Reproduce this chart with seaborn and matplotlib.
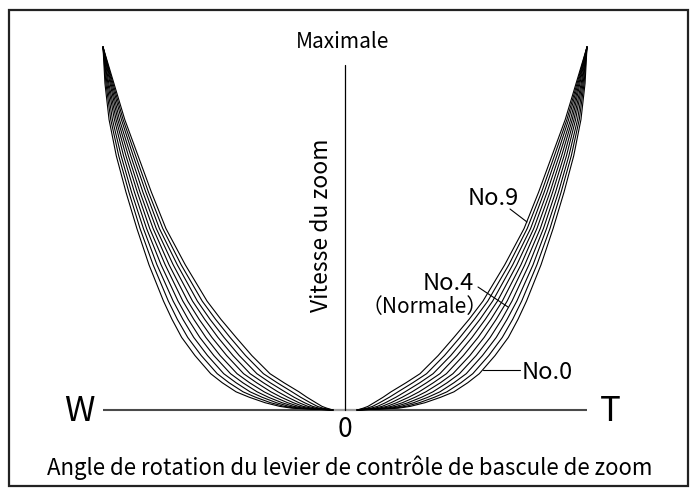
import seaborn as sns
import numpy as np
import pandas as pd
import matplotlib.pyplot as plt
from matplotlib.lines import Line2D
from matplotlib.patches import Rectangle

# zoom speed (fraction of maximum) at which each curve was read
speed_levels = [0, 0.005, 0.01, 0.02, 0.035, 0.05, 0.075, 0.1, 0.15, 0.2, 0.25, 0.3, 0.4, 0.5, 0.6, 0.7, 0.8, 0.9, 1.0]

# lever rotation angle (fraction of full travel) for each curve
curve_names = ["No.0", "No.1", "No.2", "No.3", "No.4", "No.5", "No.6", "No.7", "No.8", "No.9"]
curve_angles = [
    [0.05, 0.220, 0.270, 0.330, 0.395, 0.450, 0.507, 0.555, 0.620, 0.675, 0.715, 0.750, 0.810, 0.860, 0.905, 0.945, 0.975, 0.992, 1.0],
    [0.05, 0.204, 0.251, 0.307, 0.369, 0.421, 0.479, 0.528, 0.594, 0.650, 0.693, 0.730, 0.793, 0.847, 0.893, 0.935, 0.968, 0.988, 1.0],
    [0.05, 0.188, 0.231, 0.283, 0.342, 0.392, 0.450, 0.501, 0.568, 0.625, 0.670, 0.710, 0.777, 0.833, 0.882, 0.925, 0.961, 0.984, 1.0],
    [0.05, 0.172, 0.212, 0.260, 0.316, 0.363, 0.422, 0.473, 0.542, 0.600, 0.648, 0.690, 0.760, 0.820, 0.870, 0.915, 0.953, 0.980, 1.0],
    [0.05, 0.156, 0.192, 0.237, 0.289, 0.334, 0.394, 0.446, 0.516, 0.575, 0.625, 0.670, 0.743, 0.807, 0.858, 0.905, 0.946, 0.976, 1.0],
    [0.05, 0.139, 0.173, 0.213, 0.263, 0.306, 0.365, 0.419, 0.489, 0.550, 0.603, 0.650, 0.727, 0.793, 0.847, 0.895, 0.939, 0.971, 1.0],
    [0.05, 0.123, 0.153, 0.190, 0.236, 0.277, 0.337, 0.392, 0.463, 0.525, 0.580, 0.630, 0.710, 0.780, 0.835, 0.885, 0.932, 0.967, 1.0],
    [0.05, 0.107, 0.134, 0.167, 0.210, 0.248, 0.309, 0.364, 0.437, 0.500, 0.558, 0.610, 0.693, 0.767, 0.823, 0.875, 0.924, 0.963, 1.0],
    [0.05, 0.091, 0.114, 0.143, 0.183, 0.219, 0.280, 0.337, 0.411, 0.475, 0.535, 0.590, 0.677, 0.753, 0.812, 0.865, 0.917, 0.959, 1.0],
    [0.05, 0.075, 0.095, 0.120, 0.157, 0.190, 0.252, 0.310, 0.385, 0.450, 0.513, 0.570, 0.660, 0.740, 0.800, 0.855, 0.910, 0.955, 1.0],
]
sides = {"W": -1, "T": 1}

rows = []
for name, angles in zip(curve_names, curve_angles):
    for side, sign in sides.items():
        for a, s in zip(angles, speed_levels):
            rows.append({"angle": sign * a, "speed": s, "trace": name + side})
df = pd.DataFrame(rows)

W, H = 691, 492
sns.set_style("white")
plt.rcParams["font.family"] = ["Noto Sans CJK JP", "DejaVu Sans"]

fig = plt.figure(figsize=(W / 100, H / 100), dpi=100)
ax = fig.add_axes([0, 0, 1, 1])


def fx(px):
    return px / W


def fy(py):
    return 1 - py / H


# data frame of the plot: centre at x=345 px, 242 px per unit angle; base at y=410 px, 363 px per unit speed
ax.set_xlim(-345 / 242, (W - 345) / 242)
ax.set_ylim((410 - H) / 363, 410 / 363)
ax.axis("off")

sns.lineplot(data=df, x="angle", y="speed", units="trace", estimator=None,
             color="black", lw=0.8, ax=ax, legend=False)

# axes
ax.plot([-1, 1], [0, 0], color="#4a4a4a", lw=1.5, solid_capstyle="butt", zorder=1)
ax.plot([-0.05, 0.05], [0, 0], color="#a0a0a0", lw=1.5, solid_capstyle="butt", zorder=1.5)
ax.plot([0, 0], [0, 0.95], color="black", lw=0.9, zorder=2)

# frame
fig.add_artist(Rectangle((fx(9), fy(486)), fx(688) - fx(9), fy(10) - fy(486),
                         transform=fig.transFigure, fill=False, ec="#222222", lw=1.6))

txt = dict(color="black")
fig.text(fx(343), fy(48), "Maximale", ha="center", va="baseline", fontsize=15, **txt)
fig.text(fx(322), fy(225), "Vitesse du zoom", ha="center", va="center", rotation=90, fontsize=16.5, **txt)
fig.text(fx(79), fy(421), "W", ha="center", va="baseline", fontsize=25, **txt)
fig.text(fx(610), fy(421), "T", ha="center", va="baseline", fontsize=25, **txt)
fig.text(fx(345), fy(437), "0", ha="center", va="baseline", fontsize=19, **txt)
fig.text(fx(350), fy(475), "Angle de rotation du levier de contrôle de bascule de zoom",
         ha="center", va="baseline", fontsize=16, **txt)

fig.text(fx(493), fy(205), "No.9", ha="center", va="baseline", fontsize=17, **txt)
fig.text(fx(448), fy(290), "No.4", ha="center", va="baseline", fontsize=17, **txt)
fig.text(fx(425), fy(313), "（Normale）", ha="center", va="baseline", fontsize=15, **txt)
fig.text(fx(522), fy(379), "No.0", ha="left", va="baseline", fontsize=17, **txt)

for (x0, y0), (x1, y1) in [((510, 209), (527, 222)), ((478, 287), (508, 307)), ((483, 370), (520, 370))]:
    fig.add_artist(Line2D([fx(x0), fx(x1)], [fy(y0), fy(y1)], transform=fig.transFigure,
                          color="black", lw=0.8))

fig.savefig("out.png", dpi=100)
